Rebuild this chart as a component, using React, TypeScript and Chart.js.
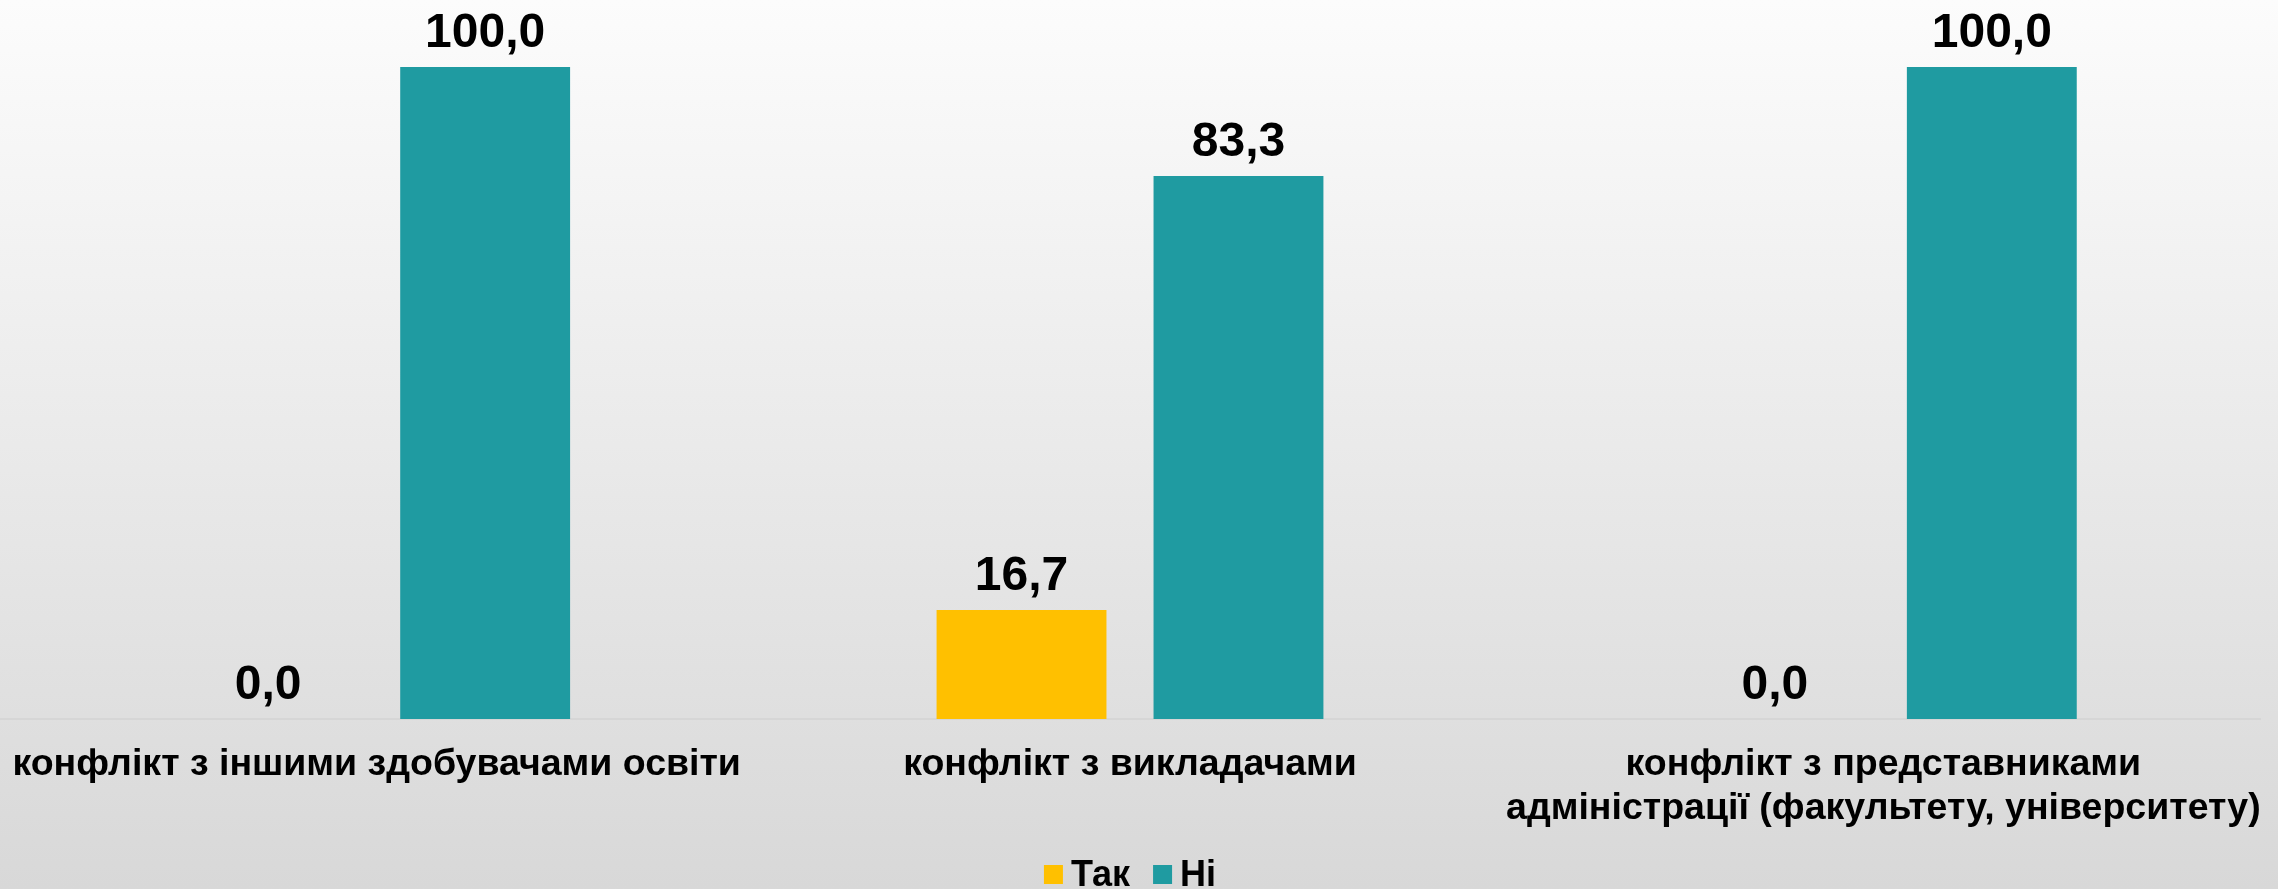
import React, { useEffect, useRef } from "react";
import { Chart, registerables } from "chart.js";

Chart.register(...registerables);

const categories: (string | string[])[] = [
  "конфлікт з іншими здобувачами освіти",
  "конфлікт з викладачами",
  ["конфлікт з представниками", "адміністрації (факультету, університету)"],
];
const seriesNames = ["Так", "Ні"];
const takValues = [0.0, 16.7, 0.0];
const niValues = [100.0, 83.3, 100.0];
const seriesColors = ["#FFC000", "#1F9BA1"];

const FONT = "'Liberation Sans', Arial, Helvetica, sans-serif";

const bgPlugin = {
  id: "bgGradient",
  beforeDraw(chart: any) {
    const { ctx, width, height } = chart;
    const g = ctx.createLinearGradient(0, 0, 0, height);
    g.addColorStop(0, "#fcfcfc");
    g.addColorStop(1, "#d8d8d8");
    ctx.save();
    ctx.fillStyle = g;
    ctx.fillRect(0, 0, width, height);
    ctx.restore();
  },
};

const valueLabelPlugin = {
  id: "valueLabels",
  afterDatasetsDraw(chart: any) {
    const { ctx } = chart;
    ctx.save();
    ctx.font = `bold 48px ${FONT}`;
    ctx.fillStyle = "#000";
    ctx.textAlign = "center";
    ctx.textBaseline = "alphabetic";
    chart.data.datasets.forEach((ds: any, di: number) => {
      const meta = chart.getDatasetMeta(di);
      meta.data.forEach((el: any, i: number) => {
        const v = ds.data[i] as number;
        const txt = v.toFixed(1).replace(".", ",");
        ctx.fillText(txt, el.x, el.y - 20);
      });
    });
    ctx.restore();
  },
};

const legendPlugin = {
  id: "customLegend",
  afterDraw(chart: any) {
    const { ctx, chartArea } = chart;
    const box = 19;
    const gapText = 8;
    const gapItem = 23;
    ctx.save();
    ctx.font = `bold 36px ${FONT}`;
    ctx.textBaseline = "alphabetic";
    ctx.textAlign = "left";
    const items = chart.data.datasets.map((ds: any) => ({
      text: ds.label as string,
      color: ds.backgroundColor as string,
      w: ctx.measureText(ds.label).width,
    }));
    const total =
      items.reduce((s: number, it: any) => s + box + gapText + it.w, 0) +
      gapItem * (items.length - 1);
    let x = (chartArea.left + chartArea.right) / 2 - total / 2;
    const boxTop = 865;
    const baseline = 886;
    items.forEach((it: any) => {
      ctx.fillStyle = it.color;
      ctx.fillRect(x, boxTop, box, box);
      x += box + gapText;
      ctx.fillStyle = "#000";
      ctx.fillText(it.text, x, baseline);
      x += it.w + gapItem;
    });
    ctx.restore();
  },
};

export default function App() {
  const ref = useRef<HTMLCanvasElement>(null);
  useEffect(() => {
    if (!ref.current) return;
    const chart = new Chart(ref.current, {
      type: "bar",
      data: {
        labels: categories,
        datasets: [
          {
            label: seriesNames[0],
            data: takValues,
            backgroundColor: seriesColors[0],
            categoryPercentage: 0.576,
            barPercentage: 0.783,
          },
          {
            label: seriesNames[1],
            data: niValues,
            backgroundColor: seriesColors[1],
            categoryPercentage: 0.576,
            barPercentage: 0.783,
          },
        ],
      },
      options: {
        animation: false,
        responsive: true,
        maintainAspectRatio: false,
        layout: { padding: { top: 67, right: 18, left: -7, bottom: 58 } },
        scales: {
          x: {
            grid: { display: false, drawTicks: false },
            border: { display: true, color: "#d6d6d6", width: 2 },
            ticks: {
              color: "#000",
              padding: 24,
              maxRotation: 0,
              autoSkip: false,
              font: { family: FONT, size: 37.5, weight: "bold", lineHeight: 1.17 },
            },
            afterFit: (scale: any) => {
              scale.height = 112;
              scale.paddingLeft = 0;
              scale.paddingRight = 0;
            },
          },
          y: {
            display: false,
            min: 0,
            max: 100,
          },
        },
        plugins: {
          legend: { display: false },
          tooltip: { enabled: false },
        },
      },
      plugins: [bgPlugin, valueLabelPlugin, legendPlugin],
    });
    return () => chart.destroy();
  }, []);
  return (
    <div style={{ position: "fixed", left: 0, top: 0, width: 2278, height: 889 }}>
      <canvas ref={ref} />
    </div>
  );
}
